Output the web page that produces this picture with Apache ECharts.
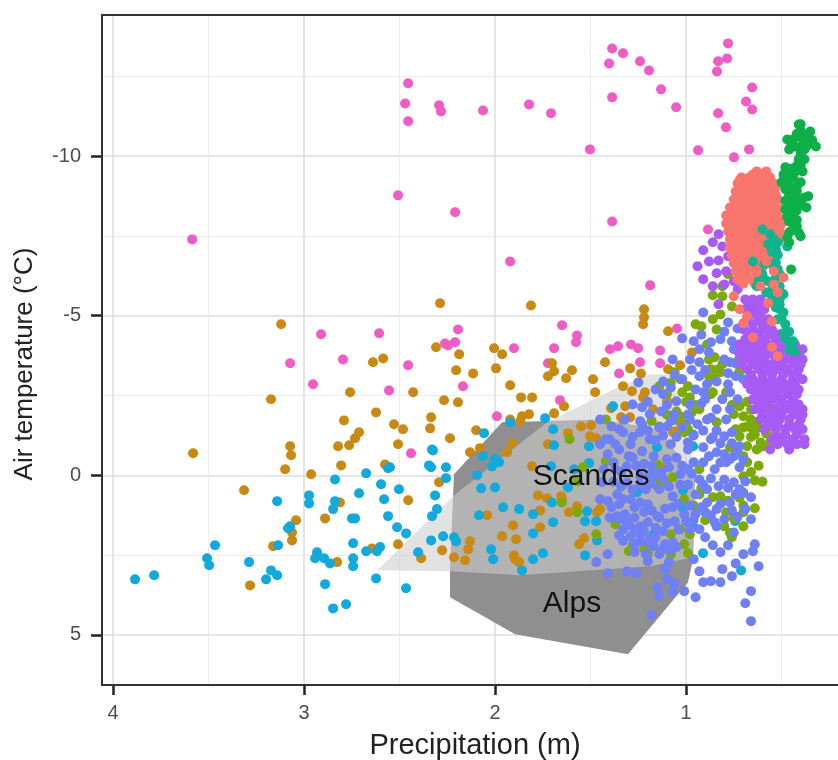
<!DOCTYPE html>
<html><head><meta charset="utf-8">
<style>html,body{margin:0;padding:0;background:#fff}#c{width:838px;height:760px}</style>
<script src="https://cdn.jsdelivr.net/npm/echarts@6/dist/echarts.min.js"></script>
</head><body><div id="c"></div>
<script>
const xMajor=[1,2,3,4];
const xMinor=[0.5,1.5,2.5,3.5];
const yMajor=[-10,-5,0,5];
const yMinor=[-12.5,-7.5,-2.5,2.5];
const regionNames=['Scandes','Alps'];
const regionLabelPoints=[[1.497,0.03],[1.597,4.01]];
const alpsOutline=[[2.236,3.82],[1.895,4.98],[1.304,5.61],[0.99,3.35],[0.963,2.63],[0.953,0.13],[1.136,-1.44],[1.45,-1.75],[1.963,-1.66],[2.215,-0.03],[2.236,2.94]];
const scandesOutline=[[2.618,2.975],[2.236,3.01],[1.869,3.13],[1.188,2.85],[0.963,2.57],[0.953,-0.19],[1.073,-3.16],[1.188,-3.16],[1.346,-2.79],[1.728,-1.66],[2.209,0.6]];
const pink=[[3.586,-7.39],[2.455,-12.28],[2.471,-11.65],[2.455,-11.09],[2.293,-11.59],[2.283,-11.4],[2.063,-11.43],[1.822,-11.62],[1.707,-11.34],[2.508,-8.77],[2.209,-8.24],[1.921,-6.7],[1.503,-10.21],[1.387,-13.37],[1.33,-13.22],[1.403,-12.9],[1.241,-12.97],[1.194,-12.68],[1.131,-12.09],[1.387,-11.84],[1.052,-11.53],[0.937,-10.18],[1.387,-7.95],[0.78,-13.53],[0.785,-13.06],[0.832,-12.97],[0.838,-12.65],[0.654,-12.15],[0.686,-11.71],[0.654,-11.46],[0.832,-11.34],[0.791,-10.9],[0.67,-10.21],[0.749,-9.96],[0.885,-7.7],[1.188,-5.95],[1.047,-4.6],[1.398,-3.95],[1.356,-4.04],[1.288,-4.1],[1.251,-3.98],[1.136,-3.91],[1.241,-3.54],[1.136,-3.51],[1.351,-3.19],[2.911,-4.42],[2.607,-4.45],[3.073,-3.51],[2.796,-3.63],[2.953,-2.85],[2.555,-2.66],[2.262,-4.13],[2.209,-4.17],[2.246,-4.07],[2.194,-4.57],[1.901,-3.98],[1.691,-3.98],[1.576,-4.17],[2.455,-3.45],[2.168,-2.79],[1.723,-3.51],[1.66,-2.35],[1.99,-1.85],[2.44,-0.69],[1.649,-4.7],[1.571,-4.38]];
const ochre=[[3.12,-4.73],[3.173,-2.38],[3.581,-0.69],[2.639,-3.54],[2.586,-3.66],[2.759,-2.6],[2.623,-1.97],[2.791,-1.72],[2.529,-1.6],[2.712,-1.35],[2.733,-1.16],[2.822,-0.91],[2.764,-0.94],[2.508,-0.97],[3.073,-0.91],[3.068,-0.63],[3.099,-0.19],[2.806,-0.31],[2.576,-0.34],[2.963,-0.03],[3.314,0.47],[2.812,0.85],[2.89,1.35],[3.042,1.41],[3.063,1.79],[3.063,2.04],[3.162,2.22],[2.827,2.72],[2.644,2.29],[2.508,2.16],[3.283,3.45],[2.309,-4.01],[2.188,-3.79],[2.005,-3.98],[1.963,-3.79],[2.204,-3.29],[2.115,-3.19],[1.995,-3.35],[1.702,-3.51],[1.691,-3.26],[1.723,-3.1],[1.597,-3.29],[1.628,-3.04],[1.487,-3.01],[1.424,-3.54],[1.921,-2.82],[1.476,-2.6],[2.429,-2.6],[2.267,-2.35],[2.194,-2.29],[1.864,-2.44],[1.806,-2.44],[1.639,-2.16],[1.691,-1.94],[1.822,-1.91],[1.859,-1.85],[1.869,-1.69],[1.921,-1.75],[2.335,-1.82],[2.482,-1.44],[2.34,-1.47],[2.099,-1.41],[2.236,-1.16],[1.911,-1],[1.937,-0.72],[2.079,-0.85],[2.131,-0.72],[1.806,-0.28],[2.293,0.22],[2.455,0.78],[1.775,0.63],[1.728,0.72],[1.654,0.66],[1.764,1.1],[2.042,1.25],[1.906,1.57],[1.764,1.63],[1.613,1.16],[1.571,0.97],[1.963,1.91],[1.89,2],[2.131,2.07],[2.141,2.32],[2.277,2.35],[2.215,2.57],[2.157,2.66],[2.387,2.6],[1.901,2.51],[1.895,2.63],[1.874,2.72],[1.534,1.97],[1.56,2.16],[1.723,-0.97],[1.618,-1.32],[1.503,-1.22],[1.471,-1.16],[1.55,-1.53],[1.497,-1.57],[1.466,1.16],[1.45,1.06],[1.393,-2.1],[1.22,-5.2],[1.22,-4.95],[1.225,-4.73],[1.094,-4.51],[0.969,-3.85],[1.293,-3.35],[1.236,-3.19],[1.33,-2.79],[1.283,-2.63],[1.215,-2.6],[1.225,-2.44],[1.094,-3.32],[1.031,-3.45],[1.319,-2.16],[1.34,-1.82],[1.293,-1.82],[1.099,-2.32],[1.173,-2.07],[1.058,-1.38],[1.031,-1.66],[1.33,-1.75],[1.068,-1.35],[1.11,-0.25],[1.649,0.75],[2.288,-5.39],[1.812,-5.32]];
const blue=[[3.466,2.19],[3.508,2.6],[3.497,2.82],[3.885,3.26],[3.785,3.13],[3.288,2.72],[3.173,2.98],[3.141,3.13],[3.199,3.26],[2.89,3.41],[2.848,4.17],[2.78,4.04],[3.136,2.19],[3.141,0.81],[3.073,1.6],[3.084,1.66],[2.974,0.63],[2.974,0.88],[2.838,0.13],[2.675,-0.06],[2.597,0.28],[2.55,-0.25],[2.56,-0.22],[2.503,0.44],[2.712,0.56],[2.581,0.75],[2.838,0.81],[2.848,1.06],[2.749,1.35],[2.733,1.35],[2.56,1.28],[2.513,1.63],[2.743,2.13],[2.743,2.6],[2.743,2.85],[2.675,2.38],[2.602,2.25],[2.618,2.38],[2.932,2.41],[2.942,2.6],[2.895,2.6],[2.864,2.76],[2.623,3.23],[2.466,3.54],[1.738,-1.79],[1.921,-1.66],[2.058,-1.32],[1.696,-1.44],[1.382,-2.16],[2.33,-0.81],[2.325,-0.78],[2.063,-0.6],[2,-0.5],[2.016,-0.28],[1.979,-0.41],[1.707,-0.28],[2.346,-0.31],[2.335,-0.25],[2.257,-0.25],[2.257,0.09],[2.094,0],[2.314,0.63],[2.073,0.41],[2,0.38],[2.304,1.06],[2.33,1.28],[1.958,1],[1.874,1.06],[1.801,1.22],[2.084,1.25],[1.691,-0.94],[1.508,-0.91],[1.508,-0.38],[1.586,-0.19],[1.618,0.38],[1.702,0.85],[1.696,1.47],[1.801,1.82],[1.529,1.44],[1.518,1.13],[1.471,1.44],[1.466,2.04],[1.529,2.51],[1.749,2.44],[1.801,2.63],[1.859,2.98],[2.01,2.63],[2.021,2.32],[2.204,2.07],[2.215,1.94],[2.272,1.91],[2.335,2.04],[2.403,2.41],[2.466,1.82],[0.911,2.44],[0.712,2.98],[1.168,1.85],[1.016,1.03],[0.963,1.6],[0.743,1.44],[0.963,-1.28],[1.016,0.47],[1.257,0.53],[1.152,-0.88],[0.963,-0.91],[1.073,-1.72]];
const olive=[[0.81,-5.92],[0.78,-6.3],[0.86,-5.64],[0.81,-5.61],[0.76,-5.29],[0.82,-5.04],[0.86,-4.89],[0.95,-4.73],[0.92,-4.67],[0.84,-4.57],[0.89,-4.1],[0.85,-3.7],[0.87,-3.32],[0.82,-3.23],[0.85,-3.01],[0.73,-3.57],[0.72,-3.26],[0.68,-2.91],[0.86,-2.6],[0.79,-2.6],[1.06,-3.23],[1.03,-3.01],[0.99,-2.79],[1.14,-2.79],[1.02,-2.6],[0.98,-2.44],[0.93,-2.07],[0.97,-1.97],[1.03,-1.85],[1.01,-1.35],[1.14,-1.53],[1.42,-1.75],[0.72,-2.16],[0.7,-1.85],[0.56,-2.16],[0.6,-1.85],[0.56,-1.53],[0.65,-1.44],[0.61,-1.03],[0.72,-1.22],[0.68,-0.91],[0.56,-1.03],[0.64,0.16],[0.64,1.03],[0.7,1.16],[0.7,1.6],[0.76,1.94],[0.8,1.6],[0.79,1.16],[0.9,1.41],[0.93,0.6],[1.01,0.75],[1.03,1.69],[1.15,0.34],[1.07,0.06],[1.15,-0.34],[1.01,2.16],[0.99,2.44],[1.08,2.47],[1.2,2.47],[1.3,2.38],[1.37,1.53],[1.47,1.85],[1.54,-0.25],[1.61,-1.13],[0.86,0.69],[0.82,0.66],[0.7,0.03],[0.68,-0.41],[0.63,-0.81],[0.68,-1.53],[0.77,-0.88],[0.93,-0.19],[0.63,-1.66],[0.99,-1.44],[0.84,-1.66],[1.57,0.19],[1.65,0.85],[1.57,1.16],[1.42,-0.44],[0.87,-2.54],[0.81,-3.48],[0.88,-3.63],[0.66,-1.75],[0.74,-1.44],[0.64,-1.28],[0.75,-1.91],[0.76,-2.2],[0.68,-2.3],[0.66,-2.05],[0.62,-1.5],[0.58,-1.3],[0.6,-0.9],[0.66,-1.2],[0.7,-1.5],[0.74,-0.7],[0.7,-0.6],[0.66,-0.1],[0.62,-0.3],[0.6,0.2],[0.88,-3.1],[0.84,-3.3],[0.9,-2.6],[1.08,-2.9],[1.1,-2.55],[1,-2.3],[0.95,-2.2],[1.05,-2],[1,-1.6],[1.18,-1.7],[1.1,-1.9],[0.7,0.95],[0.75,1.35],[0.78,0.8],[0.72,0.7],[0.77,1.8],[0.96,0.95],[0.92,0.4],[1.08,1.85],[0.98,1.85],[1.28,2.2],[1.22,2.3],[1.1,2.3],[1.15,0.1],[1.1,0.25]];
const periwinkle=[[0.95,3.82],[0.69,4.01],[0.66,3.63],[0.66,4.57],[1.18,4.38],[1.01,3.63],[1.06,3.38],[1.07,3.66],[1.14,3.79],[1.15,3.51],[1.1,3.26],[1.11,2.94],[1.09,2.72],[0.96,2.63],[0.93,3.01],[0.91,3.35],[0.87,3.32],[0.82,3.35],[0.81,2.94],[0.76,3.16],[0.74,2.76],[0.62,2.85],[0.7,2.47],[0.65,2.38],[0.64,2.16],[0.78,2.19],[0.82,2.41],[0.86,2.19],[0.9,1.94],[0.75,1.79],[0.66,1.38],[0.84,1.6],[1.41,3.07],[1.31,3.01],[1.26,3.07],[1.41,2.47],[1.47,2.72],[1.35,1.88],[1.17,2.22],[1.2,2.69],[1.4,1.32],[1.36,1.28],[1.31,1.47],[1.27,1.32],[1.24,1.6],[1.2,1.47],[1.29,1.91],[1.27,2.16],[1.24,2.07],[1.14,1.32],[1.12,1.75],[1.07,2.1],[1.05,2.25],[1.07,0.66],[1.07,1],[1.01,1.22],[1.06,1.44],[0.95,1.22],[0.89,0.85],[0.84,1.06],[0.85,1.47],[0.77,0.85],[0.72,0.44],[0.66,0.69],[0.75,0.22],[0.83,0.34],[0.89,0.44],[0.99,-0.19],[0.96,-0.41],[0.91,-0.88],[0.99,-0.81],[0.86,-1.19],[0.79,-0.41],[0.72,-0.25],[0.94,-1.6],[0.76,-1.35],[0.73,-0.81],[0.84,-0.72],[0.77,-0.5],[1.08,-0.97],[1.1,-0.5],[1.23,-0.75],[1.17,-0.6],[1.28,-0.56],[1.35,-0.81],[1.4,-1.13],[1.41,-0.66],[1.31,-0.28],[1.24,0.03],[1.19,-0.03],[1.31,0.22],[1.36,0.6],[1.41,0.81],[1.29,0.75],[1.24,0.85],[1.2,0.91],[1.15,1.28],[1.23,-1.6],[1.14,-1.5],[1.24,-1.35],[1.35,-1.44],[1.39,-1.53],[0.91,-5.1],[1.02,-4.29],[1.07,-3.63],[0.93,-3.54],[0.87,-4.17],[0.82,-4.26],[0.78,-4.79],[0.75,-3.95],[0.77,-3.54],[0.74,-3.1],[0.93,-3.1],[0.89,-2.85],[0.84,-2.94],[0.78,-2.85],[0.7,-3.01],[1.12,-2.94],[1.02,-3.01],[1.25,-2.91],[1.12,-2.54],[1.05,-2.32],[0.9,-2.38],[1.28,-2.22],[1.23,-2.13],[1.13,-2],[0.84,-2.07],[0.73,-2.38],[1.24,-1.69],[1.33,-1.35],[1.42,-1.13],[1.1,-1.53],[0.89,-1.75],[0.79,-1.75],[0.8,-1.22],[1.19,-1.13],[0.99,-1.03],[0.87,-1.13],[0.72,-0.91],[1.44,0.22],[1.45,0.75],[1.43,-0.19],[1.37,-0.19],[1.35,0.91],[1.32,1.22],[1.21,0.44],[1.14,0.44],[1.16,-0.03],[1.03,-0.03],[0.93,0.13],[0.85,-0.19],[0.8,0.13],[0.69,0.19],[0.95,0.6],[0.98,1.69],[0.93,1.69],[0.8,1.38],[0.69,1.06],[1.19,2],[1.21,2.47],[1.14,2.47],[1.11,2.16],[1.35,1.38],[1.27,1.69],[0.98,-1.75],[1.06,-1.91],[1.19,-1.91],[1.16,-2.69],[0.98,-3.63],[0.95,-2.69],[0.93,-3.95],[0.8,-3.63],[0.81,-2.38],[0.77,-2.07],[0.98,-2.22],[1.37,-0.97],[1.29,-0.97],[1.45,-0.97],[1.45,-1.75],[0.8,-0.66],[1.38,-0.4],[1.34,-0.1],[1.3,-0.6],[1.26,-0.3],[1.22,-0.35],[1.18,-0.3],[1.13,-0.1],[1.09,-0.25],[1.05,-0.55],[1.02,-0.3],[0.97,-0.05],[0.91,-0.4],[0.88,-0.6],[0.82,-0.4],[0.75,-0.6],[0.7,-0.5],[1.38,0.2],[1.34,0.35],[1.28,0.45],[1.24,0.3],[1.18,0.25],[1.12,0.1],[1.09,0.35],[1.03,0.3],[0.99,0.3],[0.91,0.3],[0.87,0.1],[0.78,0.4],[0.74,0.6],[0.7,0.55],[1.39,1],[1.33,0.75],[1.27,1],[1.22,1.15],[1.18,1.1],[1.11,1.05],[1.04,0.9],[0.98,0.95],[0.92,1],[0.87,1.25],[0.82,0.9],[0.76,1.1],[0.73,1.3],[1.33,1.7],[1.3,1.55],[1.24,1.85],[1.22,1.75],[1.16,1.65],[1.1,1.5],[1.04,1.7],[1,1.45],[0.96,1.4],[0.9,1.15],[1.33,2.05],[1.27,2.4],[1.2,2.1],[1.16,1.95],[1.13,2.35],[1.08,2.35],[1.28,-1.2],[1.2,-1.4],[1.16,-1.1],[1.12,-1.25],[1.05,-1.2],[1.02,-1.5],[0.96,-1.25],[0.91,-1.4],[0.84,-1.4],[0.82,-1],[0.76,-1],[1.32,-1.75],[1.2,-2.3],[1.1,-2.2],[1.08,-1.7],[0.99,-1.9],[0.92,-2.25],[0.87,-1.8],[0.77,-2.6],[0.91,-2.6],[1.08,-2.75],[1.06,-3.15],[0.97,-3.3],[0.9,-3.3],[0.78,-3.2],[0.74,-3.5],[0.76,-4.2],[0.73,-4.6],[0.8,-4.5],[0.88,-3.85],[0.92,-4.4],[0.96,-4.2]];
const purple=[[0.83,-7.55],[0.86,-7.3],[0.81,-7.17],[0.91,-7.05],[0.94,-6.55],[0.88,-6.7],[0.83,-6.73],[0.78,-6.86],[0.84,-6.33],[0.79,-6.39],[0.91,-6.14],[0.86,-5.92],[0.75,-6.08],[0.83,-5.36],[0.8,-5.98],[0.73,-5.83],[0.69,-5.51],[0.65,-5.51],[0.61,-5.51],[0.69,-5.2],[0.64,-5.2],[0.59,-5.2],[0.68,-4.89],[0.62,-4.89],[0.57,-4.89],[0.7,-4.57],[0.65,-4.57],[0.6,-4.57],[0.55,-4.57],[0.69,-4.26],[0.64,-4.26],[0.59,-4.26],[0.53,-4.26],[0.48,-4.26],[0.7,-3.95],[0.65,-3.95],[0.6,-3.95],[0.55,-3.95],[0.5,-3.95],[0.44,-3.95],[0.39,-3.95],[0.69,-3.63],[0.64,-3.63],[0.59,-3.63],[0.53,-3.63],[0.48,-3.63],[0.43,-3.63],[0.39,-3.63],[0.68,-3.32],[0.62,-3.32],[0.57,-3.32],[0.52,-3.32],[0.47,-3.32],[0.41,-3.32],[0.65,-3.01],[0.6,-3.01],[0.55,-3.01],[0.5,-3.01],[0.44,-3.01],[0.39,-3.01],[0.66,-2.69],[0.61,-2.69],[0.56,-2.69],[0.51,-2.69],[0.46,-2.69],[0.41,-2.69],[0.65,-2.38],[0.6,-2.38],[0.55,-2.38],[0.5,-2.38],[0.44,-2.38],[0.64,-2.07],[0.59,-2.07],[0.53,-2.07],[0.48,-2.07],[0.43,-2.07],[0.39,-2.07],[0.61,-1.75],[0.56,-1.75],[0.51,-1.75],[0.46,-1.75],[0.4,-1.75],[0.59,-1.44],[0.53,-1.44],[0.48,-1.44],[0.43,-1.44],[0.39,-1.44],[0.55,-1.13],[0.5,-1.13],[0.44,-1.13],[0.38,-1.13],[0.56,-0.81],[0.46,-0.81],[0.38,-0.97],[0.67,-5.36],[0.63,-5.36],[0.59,-5.36],[0.66,-5.04],[0.61,-5.04],[0.7,-4.73],[0.65,-4.73],[0.6,-4.73],[0.57,-4.73],[0.67,-4.42],[0.62,-4.42],[0.56,-4.42],[0.51,-4.42],[0.72,-4.1],[0.67,-4.1],[0.62,-4.1],[0.57,-4.1],[0.52,-4.1],[0.47,-4.1],[0.43,-4.1],[0.72,-3.79],[0.67,-3.79],[0.62,-3.79],[0.57,-3.79],[0.51,-3.79],[0.46,-3.79],[0.41,-3.79],[0.71,-3.48],[0.65,-3.48],[0.6,-3.48],[0.55,-3.48],[0.5,-3.48],[0.44,-3.48],[0.4,-3.48],[0.66,-3.16],[0.6,-3.16],[0.55,-3.16],[0.49,-3.16],[0.44,-3.16],[0.42,-3.16],[0.68,-2.85],[0.63,-2.85],[0.58,-2.85],[0.53,-2.85],[0.48,-2.85],[0.43,-2.85],[0.63,-2.54],[0.58,-2.54],[0.53,-2.54],[0.47,-2.54],[0.42,-2.54],[0.62,-2.22],[0.57,-2.22],[0.51,-2.22],[0.46,-2.22],[0.41,-2.22],[0.6,-1.9],[0.55,-1.9],[0.5,-1.9],[0.44,-1.9],[0.39,-1.9],[0.57,-1.6],[0.52,-1.6],[0.46,-1.6],[0.41,-1.6],[0.53,-1.28],[0.48,-1.28],[0.42,-1.28],[0.52,-0.97],[0.47,-0.97],[0.42,-0.97]];
const salmon=[[0.63,-9.52],[0.58,-9.52],[0.71,-9.33],[0.67,-9.33],[0.61,-9.33],[0.56,-9.33],[0.73,-9.14],[0.69,-9.14],[0.64,-9.14],[0.59,-9.14],[0.54,-9.14],[0.74,-8.89],[0.7,-8.89],[0.64,-8.89],[0.59,-8.89],[0.54,-8.89],[0.75,-8.64],[0.71,-8.64],[0.65,-8.64],[0.6,-8.64],[0.55,-8.64],[0.52,-8.64],[0.77,-8.39],[0.72,-8.39],[0.66,-8.39],[0.61,-8.39],[0.56,-8.39],[0.52,-8.39],[0.79,-8.14],[0.73,-8.14],[0.68,-8.14],[0.63,-8.14],[0.58,-8.14],[0.52,-8.14],[0.79,-7.89],[0.74,-7.89],[0.69,-7.89],[0.63,-7.89],[0.58,-7.89],[0.53,-7.89],[0.5,-7.89],[0.78,-7.64],[0.73,-7.64],[0.68,-7.64],[0.62,-7.64],[0.57,-7.64],[0.51,-7.64],[0.77,-7.39],[0.72,-7.39],[0.66,-7.39],[0.61,-7.39],[0.56,-7.39],[0.51,-7.39],[0.77,-7.14],[0.72,-7.14],[0.66,-7.14],[0.61,-7.14],[0.55,-7.14],[0.76,-6.89],[0.71,-6.89],[0.66,-6.89],[0.6,-6.89],[0.56,-6.89],[0.75,-6.64],[0.69,-6.64],[0.63,-6.64],[0.57,-6.64],[0.74,-6.39],[0.68,-6.39],[0.61,-6.39],[0.73,-6.14],[0.66,-6.14],[0.65,-9.42],[0.6,-9.42],[0.72,-9.24],[0.66,-9.24],[0.61,-9.24],[0.57,-9.24],[0.71,-9.02],[0.67,-9.02],[0.62,-9.02],[0.57,-9.02],[0.53,-9.02],[0.73,-8.77],[0.68,-8.77],[0.62,-8.77],[0.57,-8.77],[0.53,-8.77],[0.74,-8.52],[0.69,-8.52],[0.63,-8.52],[0.58,-8.52],[0.54,-8.52],[0.75,-8.27],[0.7,-8.27],[0.64,-8.27],[0.59,-8.27],[0.54,-8.27],[0.76,-8.02],[0.71,-8.02],[0.66,-8.02],[0.61,-8.02],[0.55,-8.02],[0.51,-8.02],[0.76,-7.77],[0.71,-7.77],[0.66,-7.77],[0.6,-7.77],[0.55,-7.77],[0.51,-7.77],[0.75,-7.52],[0.7,-7.52],[0.65,-7.52],[0.59,-7.52],[0.54,-7.52],[0.75,-7.27],[0.69,-7.27],[0.63,-7.27],[0.58,-7.27],[0.53,-7.27],[0.74,-7.02],[0.69,-7.02],[0.63,-7.02],[0.58,-7.02],[0.53,-7.02],[0.73,-6.77],[0.68,-6.77],[0.63,-6.77],[0.58,-6.77],[0.72,-6.52],[0.66,-6.52],[0.6,-6.52],[0.7,-6.27],[0.63,-6.27],[0.7,-6],[0.64,-6]];
const salmonLower=[[0.75,-5.61],[0.72,-5.2],[0.68,-4.98],[0.7,-4.76],[0.65,-4.32],[0.55,-4.01],[0.52,-3.73],[0.57,-5.39],[0.55,-4.82],[0.61,-5.92],[0.54,-5.98],[0.52,-5.73],[0.58,-6.7],[0.54,-6.39],[0.63,-6.36],[0.49,-6.2]];
const teal=[[0.6,-7.7],[0.56,-7.55],[0.47,-7.17],[0.54,-7.39],[0.53,-7.08],[0.53,-6.67],[0.57,-7.24],[0.65,-6.7],[0.63,-5.92],[0.58,-5.73],[0.51,-5.92],[0.51,-5.51],[0.51,-5.2],[0.52,-4.89],[0.48,-4.73],[0.47,-4.48],[0.46,-4.2],[0.43,-3.88],[0.46,-3.95],[0.52,-6.45],[0.53,-6.2],[0.56,-6.05],[0.51,-6.3],[0.49,-5.67],[0.55,-5.51],[0.53,-5.26],[0.59,-6.61],[0.52,-7.3],[0.55,-7],[0.52,-6.9],[0.54,-6.5],[0.5,-5.7],[0.53,-5.6],[0.51,-5.35],[0.49,-5.1],[0.5,-4.9],[0.46,-4.5],[0.49,-4.45],[0.45,-4.05],[0.44,-4.2],[0.48,-4.3],[0.6,-6.3],[0.58,-6.1],[0.62,-6.1],[0.55,-5.8]];
const green=[[0.41,-10.99],[0.4,-10.59],[0.47,-10.52],[0.43,-10.3],[0.35,-10.77],[0.36,-10.52],[0.32,-10.3],[0.41,-9.9],[0.39,-9.52],[0.48,-9.65],[0.46,-9.27],[0.5,-9.18],[0.42,-9.05],[0.36,-8.74],[0.47,-8.64],[0.44,-8.55],[0.37,-8.39],[0.44,-8.11],[0.42,-7.8],[0.4,-7.49],[0.46,-7.61],[0.46,-7.3],[0.45,-6.45],[0.4,-11],[0.38,-10.21],[0.46,-10.21],[0.38,-10.65],[0.44,-10.52],[0.38,-9.9],[0.4,-10.2],[0.46,-8.8],[0.48,-8.96],[0.44,-9.33],[0.4,-9.18],[0.48,-8.33],[0.46,-7.95],[0.38,-8.7],[0.43,-8.8],[0.49,-9.42],[0.4,-10.8],[0.42,-10.7],[0.45,-10.4],[0.39,-10.35],[0.34,-10.5],[0.37,-10.3],[0.4,-10.05],[0.42,-9.7],[0.4,-9.7],[0.45,-9.6],[0.47,-9.45],[0.43,-9.5],[0.48,-9.1],[0.45,-9],[0.42,-8.9],[0.46,-8.5],[0.41,-8.6],[0.4,-8.5],[0.44,-8.3],[0.48,-8.6],[0.42,-8.3],[0.47,-8.1],[0.42,-8],[0.44,-7.7],[0.41,-7.6],[0.47,-7.45]];

const font='"Liberation Sans"';
function polygon(points,fill,z){
  return {type:'custom',coordinateSystem:'cartesian2d',z,silent:true,data:[points[0]],
    renderItem:(p,api)=>({type:'polygon',shape:{points:points.map(q=>api.coord(q))},style:{fill}})};
}
function dots(data,color,z){
  return {type:'scatter',data,symbolSize:10,z,silent:true,itemStyle:{color,opacity:1}};
}
const axisCommon={inverse:true,axisLine:{show:false,onZero:false},z:0};
const option={
  animation:false,
  backgroundColor:'#fff',
  grid:[{left:102,top:15,width:738,height:670,show:true,z:1,borderColor:'#333',borderWidth:2,backgroundColor:'transparent',containLabel:false,outerBoundsMode:'none'}],
  xAxis:[
   {...axisCommon,type:'value',position:'bottom',min:0.194,max:4.058,
    name:'Precipitation (m)',nameLocation:'middle',nameGap:46,nameTextStyle:{fontFamily:font,fontSize:29,color:'#222',padding:[0,0,0,8]},
    axisTick:{show:true,length:10,lineStyle:{color:'#222',width:2.5},customValues:xMajor},
    axisLabel:{show:true,fontFamily:font,fontSize:20,color:'#4d4d4d',margin:18,customValues:xMajor},
    splitLine:{show:true,lineStyle:{color:'#dcdcdc',width:1.5}}},
   {...axisCommon,type:'value',position:'bottom',min:0.194,max:4.058,
    axisTick:{show:false,customValues:xMinor},axisLabel:{show:false,customValues:xMinor},
    splitLine:{show:true,lineStyle:{color:'#ececec',width:1}}}
  ],
  yAxis:[
   {...axisCommon,type:'value',position:'left',min:-14.42,max:6.57,
    name:'Air temperature (°C)',nameLocation:'middle',nameGap:64,nameTextStyle:{fontFamily:font,fontSize:26,color:'#222',padding:[0,28,0,0]},
    axisTick:{show:true,length:11,lineStyle:{color:'#222',width:2.5},customValues:yMajor},
    axisLabel:{show:true,fontFamily:font,fontSize:20,color:'#4d4d4d',margin:21,customValues:yMajor},
    splitLine:{show:true,lineStyle:{color:'#dcdcdc',width:1.5}}},
   {...axisCommon,type:'value',position:'left',min:-14.42,max:6.57,
    axisTick:{show:false,customValues:yMinor},axisLabel:{show:false,customValues:yMinor},
    splitLine:{show:true,lineStyle:{color:'#ececec',width:1}}}
  ],
  series:[
    polygon(alpsOutline,'#8f8f8f',2),
    polygon(scandesOutline,'rgba(205,205,205,0.58)',3),
    dots(pink,'#F05CC6',4),
    dots(ochre,'#C98A14',5),
    dots(blue,'#12A9DC',6),
    dots(olive,'#7CAA0A',7),
    dots(periwinkle,'#6F80F4',8),
    dots(purple,'#A85AF5',9),
    dots(salmon,'#F8766D',10),
    dots(teal,'#12B48E',11),
    dots(salmonLower,'#F8766D',12),
    dots(green,'#0CAF48',13),
    {type:'scatter',z:20,silent:true,symbol:'circle',symbolSize:1,itemStyle:{color:'#000',opacity:0},
     data:regionLabelPoints.map((v,i)=>({value:v,name:regionNames[i]})),
     label:{show:true,position:'inside',opacity:1,formatter:d=>d.name,fontFamily:font,fontSize:30,color:'#111'}}
  ]
};
echarts.init(document.getElementById('c'),null,{renderer:'canvas'}).setOption(option);
</script></body></html>
